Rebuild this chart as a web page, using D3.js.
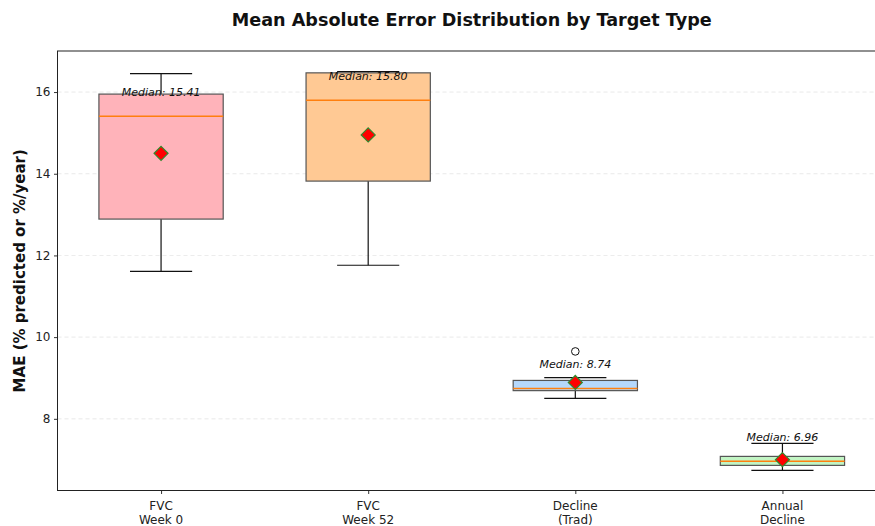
<!DOCTYPE html>
<html>
<head>
<meta charset="utf-8">
<script src="https://cdn.jsdelivr.net/npm/d3@7"></script>
<style>
  html, body { margin: 0; padding: 0; background: #fff; }
  svg { display: block; font-family: "DejaVu Sans", sans-serif; }
</style>
</head>
<body>
<svg id="chart" width="875" height="526"></svg>
<script>
// Box statistics per target type
const categories = [["FVC", "Week 0"], ["FVC", "Week 52"], ["Decline", "(Trad)"], ["Annual", "Decline"]];
const whiskerLow  = [11.61, 11.76, 8.50, 6.74];
const q1          = [12.89, 13.82, 8.69, 6.86];
const medians     = [15.41, 15.80, 8.74, 6.96];
const q3          = [15.95, 16.47, 8.94, 7.08];
const whiskerHigh = [16.45, 16.50, 9.01, 7.40];
const means       = [14.50, 14.95, 8.89, 7.00];
const outliers    = [[], [], [9.65], []];
const fills       = ["#ffb3ba", "#ffc994", "#b5d8fc", "#c2f5c4"];
const yTicks      = [8, 10, 12, 14, 16];

const svg = d3.select("#chart");
const margin = { left: 57.5, right: 886, top: 51, bottom: 490.5 };

const x = d3.scaleLinear().domain([0.5, 4.5]).range([margin.left, margin.right]);
const y = d3.scaleLinear().domain([6.245, 17.005]).range([margin.bottom, margin.top]);
const boxW = x(1.3) - x(0.7);
const capW = x(1.15) - x(0.85);

// grid
svg.append("g").selectAll("line").data(yTicks).join("line")
  .attr("x1", margin.left).attr("x2", margin.right)
  .attr("y1", d => y(d)).attr("y2", d => y(d))
  .attr("stroke", "#d9d9d9").attr("stroke-width", 0.8)
  .attr("stroke-dasharray", "4,3").attr("opacity", 0.7);

// axes
const yAxis = d3.axisLeft(y).tickValues(yTicks).tickSize(3.5).tickPadding(3.5).tickFormat(d3.format("d"));
const gy = svg.append("g").attr("transform", `translate(${margin.left},0)`).call(yAxis);
gy.select(".domain").remove();
gy.selectAll("text").attr("font-size", 12).attr("fill", "#222").attr("font-family", "DejaVu Sans");
gy.selectAll("line").attr("stroke", "#333");

const xAxis = d3.axisBottom(x).tickValues([1, 2, 3, 4]).tickSize(3.5).tickFormat("");
const gx = svg.append("g").attr("transform", `translate(0,${margin.bottom})`).call(xAxis);
gx.select(".domain").remove();
gx.selectAll("line").attr("stroke", "#333");

categories.forEach((lines, i) => {
  const t = svg.append("text").attr("x", x(i + 1)).attr("y", margin.bottom + 19)
    .attr("text-anchor", "middle").attr("font-size", 12).attr("fill", "#222");
  lines.forEach((l, j) => t.append("tspan").attr("x", x(i + 1)).attr("dy", j === 0 ? 0 : 14.5).text(l));
});

// boxes
const g = svg.append("g");
categories.forEach((c, i) => {
  const cx = x(i + 1);
  // whiskers
  g.append("line").attr("x1", cx).attr("x2", cx).attr("y1", y(q3[i])).attr("y2", y(whiskerHigh[i]))
    .attr("stroke", "#111").attr("stroke-width", 1.2);
  g.append("line").attr("x1", cx).attr("x2", cx).attr("y1", y(q1[i])).attr("y2", y(whiskerLow[i]))
    .attr("stroke", "#111").attr("stroke-width", 1.2);
  [whiskerHigh[i], whiskerLow[i]].forEach(v => {
    g.append("line").attr("x1", cx - capW / 2).attr("x2", cx + capW / 2)
      .attr("y1", y(v)).attr("y2", y(v)).attr("stroke", "#111").attr("stroke-width", 1.2);
  });
  g.append("rect").attr("x", cx - boxW / 2).attr("width", boxW)
    .attr("y", y(q3[i])).attr("height", y(q1[i]) - y(q3[i]))
    .attr("fill", fills[i]).attr("stroke", "#555").attr("stroke-width", 1.2);
  g.append("line").attr("x1", cx - boxW / 2).attr("x2", cx + boxW / 2)
    .attr("y1", y(medians[i])).attr("y2", y(medians[i]))
    .attr("stroke", "#ff7f0e").attr("stroke-width", 1.5);
  outliers[i].forEach(v => {
    g.append("circle").attr("cx", cx).attr("cy", y(v)).attr("r", 3.8)
      .attr("fill", "none").attr("stroke", "#111").attr("stroke-width", 1);
  });
  g.append("path").attr("d", d3.symbol(d3.symbolDiamond2, 125)())
    .attr("transform", `translate(${cx},${y(means[i])})`)
    .attr("fill", "#ff0000").attr("stroke", "#2e8b2e").attr("stroke-width", 1.2);
  g.append("text").attr("x", cx).attr("y", y(medians[i] + 0.59))
    .attr("dy", "0.35em").attr("text-anchor", "middle")
    .attr("font-size", 11).attr("font-style", "italic").attr("fill", "#111")
    .text(`Median: ${medians[i].toFixed(2)}`);
});

// frame
svg.append("rect").attr("x", margin.left).attr("y", margin.top)
  .attr("width", margin.right - margin.left).attr("height", margin.bottom - margin.top)
  .attr("fill", "none").attr("stroke", "#222").attr("stroke-width", 1);

// title and y label
svg.append("text").attr("x", (margin.left + margin.right) / 2).attr("y", 26)
  .attr("text-anchor", "middle").attr("font-size", 17.6).attr("font-weight", "bold").attr("fill", "#111")
  .text("Mean Absolute Error Distribution by Target Type");
svg.append("text").attr("transform", `translate(25,${(margin.top + margin.bottom) / 2}) rotate(-90)`)
  .attr("text-anchor", "middle").attr("font-size", 15).attr("font-weight", "bold").attr("fill", "#111")
  .text("MAE (% predicted or %/year)");
</script>
</body>
</html>
